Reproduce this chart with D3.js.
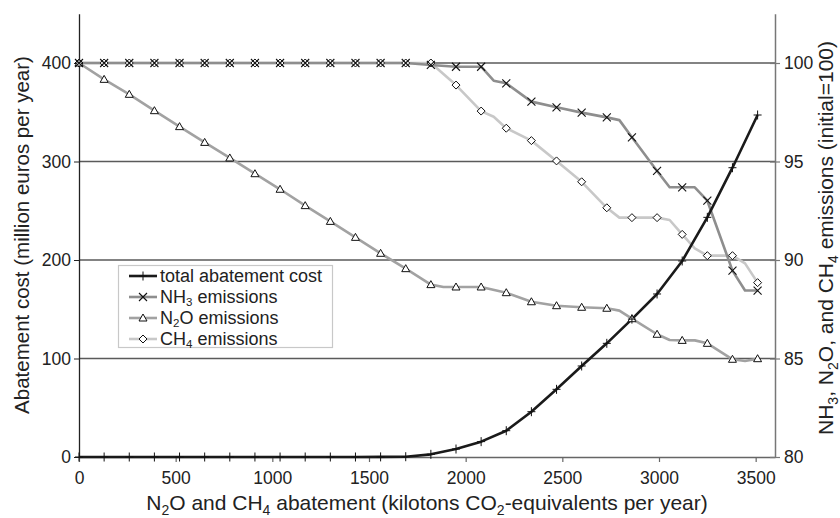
<!DOCTYPE html>
<html><head><meta charset="utf-8">
<script src="https://cdn.jsdelivr.net/npm/d3@7"></script>
<style>
body{margin:0;background:#fff;}
svg{display:block;font-family:"Liberation Sans",Arial,sans-serif;}
</style></head>
<body><svg id="chart" width="840" height="518"></svg>
<script>
// ---- data ----
const xTicks = [0,500,1000,1500,2000,2500,3000,3500];
const leftTicks = [0,100,200,300,400];
const rightTicks = [80,85,90,95,100];
// marker positions (kilotons CO2-eq), step 130
const markerX = [0,130,260,390,520,650,780,910,1040,1170,1300,1430,1560,1690,1820,1950,2080,2210,2340,2470,2600,2730,2860,2990,3120,3250,3380,3510];
// total abatement cost (million euros per year)
const costX = markerX;
const costY = [0,0,0,0,0,0,0,0,0,0,0,0,0.1,0.3,2.7,8.1,15.6,26.7,46,68.7,92.4,115.4,140,165.5,199,243.3,293.7,347.2];
// NH3 emissions (index, initial=100) including line vertices between markers
const nh3X = [0,130,260,390,520,650,780,910,1040,1170,1300,1430,1560,1690,1820,1950,2080,2145,2210,2340,2470,2600,2730,2795,2860,2990,3055,3120,3185,3250,3380,3445,3510];
const nh3Y = [100,100,100,100,100,100,100,100,100,100,100,100,100,100,99.9,99.81,99.81,99.1,98.97,98.04,97.75,97.48,97.24,97.1,96.23,94.52,93.69,93.69,93.69,93.01,89.46,88.45,88.45];
// N2O emissions
const n2oX = [0,130,260,390,520,650,780,910,1040,1170,1300,1430,1560,1690,1820,1885,1950,2080,2210,2340,2470,2600,2730,2795,2860,2990,3055,3120,3185,3250,3380,3445,3510];
const n2oY = [100,99.17,98.41,97.58,96.77,95.97,95.18,94.38,93.59,92.76,91.96,91.15,90.34,89.56,88.75,88.63,88.63,88.63,88.34,87.88,87.68,87.6,87.55,87.43,87.02,86.23,85.94,85.92,85.92,85.77,84.96,84.87,84.99];
// CH4 emissions
const ch4X = [0,130,260,390,520,650,780,910,1040,1170,1300,1430,1560,1690,1820,1950,2080,2145,2210,2340,2470,2600,2730,2795,2860,2990,3055,3120,3185,3250,3380,3445,3510];
const ch4Y = [100,100,100,100,100,100,100,100,100,100,100,100,100,100,100,98.88,97.56,97.27,96.69,96.06,95.03,93.97,92.65,92.15,92.15,92.15,92.03,91.3,90.59,90.22,90.22,89.83,88.85];

// ---- layout ----
const svg = d3.select("#chart");
const x = d3.scaleLinear().domain([0,3600]).range([79,775]);
const yL = d3.scaleLinear().domain([0,450]).range([457,13.75]);
const yR = d3.scaleLinear().domain([80,102.5]).range([457,13.75]);
const FS = 17.5;

// gridlines
svg.append("g").selectAll("line").data(leftTicks.filter(d=>d>0)).join("line")
  .attr("x1",x(0)).attr("x2",x(3600)).attr("y1",d=>yL(d)).attr("y2",d=>yL(d))
  .attr("stroke","#5a5a5a").attr("stroke-width",1.5);

// axes
const axB = svg.append("g").attr("transform",`translate(0,${yL(0)})`)
  .call(d3.axisBottom(x).tickValues(xTicks).tickSize(5).tickSizeOuter(0).tickFormat(d3.format("d")));
const axL = svg.append("g").attr("transform",`translate(${x(0)},0)`)
  .call(d3.axisLeft(yL).tickValues(leftTicks).tickSize(5).tickSizeOuter(0));
const axR = svg.append("g").attr("transform",`translate(${x(3600)},0)`)
  .call(d3.axisRight(yR).tickValues(rightTicks).tickSize(5).tickSizeOuter(0));
axR.selectAll(".tick line").attr("x1",-5).attr("x2",5);
[axB,axL,axR].forEach(a=>{
  a.selectAll("text").attr("font-size",FS).attr("font-family","Liberation Sans, Arial, sans-serif").attr("fill","#222");
});
axB.select(".domain").attr("stroke","#666").attr("stroke-width",1.5);
axB.selectAll(".tick line").attr("stroke","#666").attr("stroke-width",1.2);
axB.selectAll("text").attr("y",10).attr("dy","0.95em");
axL.select(".domain").attr("stroke","#222").attr("stroke-width",1.3);
axL.selectAll(".tick line").attr("stroke","#222");
axL.selectAll("text").attr("x",-8);
axR.select(".domain").attr("stroke","#777").attr("stroke-width",1.5);
axR.selectAll(".tick line").attr("stroke","#777").attr("stroke-width",1.2);
axR.selectAll("text").attr("x",9);

// lines
const lineGen = (xs, ys, ysc) => d3.line().x((d,i)=>x(xs[i])).y((d,i)=>ysc(ys[i]))(ys);
svg.append("path").attr("d",lineGen(ch4X,ch4Y,yR)).attr("fill","none").attr("stroke","#c8c8c8").attr("stroke-width",2.6).attr("stroke-linejoin","round");
svg.append("path").attr("d",lineGen(n2oX,n2oY,yR)).attr("fill","none").attr("stroke","#a2a2a2").attr("stroke-width",2.6).attr("stroke-linejoin","round");
svg.append("path").attr("d",lineGen(nh3X,nh3Y,yR)).attr("fill","none").attr("stroke","#8e8e8e").attr("stroke-width",2.6).attr("stroke-linejoin","round");
svg.append("path").attr("d",lineGen(costX,costY,yL)).attr("fill","none").attr("stroke","#1a1a1a").attr("stroke-width",2.6).attr("stroke-linejoin","round");

// marker shapes
function drawMarker(g, type, cx, cy){
  if(type==="plus"){
    g.append("path").attr("d",`M${cx-4},${cy}H${cx+4}M${cx},${cy-4.5}V${cy+4.5}`).attr("stroke","#111").attr("stroke-width",1).attr("fill","none");
  } else if(type==="x"){
    g.append("path").attr("d",`M${cx-4},${cy-4}L${cx+4},${cy+4}M${cx-4},${cy+4}L${cx+4},${cy-4}`).attr("stroke","#111").attr("stroke-width",1.1).attr("fill","none");
  } else if(type==="tri"){
    g.append("path").attr("d",`M${cx},${cy-4}L${cx+4},${cy+3}L${cx-4},${cy+3}Z`).attr("stroke","#111").attr("stroke-width",1).attr("fill","#fff");
  } else if(type==="dia"){
    g.append("path").attr("d",`M${cx},${cy-4}L${cx+4},${cy}L${cx},${cy+4}L${cx-4},${cy}Z`).attr("stroke","#111").attr("stroke-width",1).attr("fill","#fff");
  }
}
const mk = svg.append("g");
const isMarker = v => v % 130 === 0;
ch4X.forEach((v,i)=>{ if(isMarker(v)) drawMarker(mk,"dia",x(v),yR(ch4Y[i])); });
n2oX.forEach((v,i)=>{ if(isMarker(v)) drawMarker(mk,"tri",x(v),yR(n2oY[i])); });
nh3X.forEach((v,i)=>{ if(isMarker(v)) drawMarker(mk,"x",x(v),yR(nh3Y[i])); });
costX.forEach((v,i)=>drawMarker(mk,"plus",x(v),yL(costY[i])));

// legend
const leg = svg.append("g");
leg.append("rect").attr("x",118.5).attr("y",265.5).attr("width",214).attr("height",82)
  .attr("fill","#fff").attr("stroke","#c8c8c8").attr("stroke-width",1.2);
const legItems = [
  {name:["total abatement cost"], color:"#1a1a1a", m:"plus"},
  {name:["NH","3"," emissions"], color:"#8e8e8e", m:"x"},
  {name:["N","2","O emissions"], color:"#a2a2a2", m:"tri"},
  {name:["CH","4"," emissions"], color:"#c8c8c8", m:"dia"}
];
legItems.forEach((it,i)=>{
  const cy = 276 + i*21;
  leg.append("line").attr("x1",129).attr("x2",157).attr("y1",cy).attr("y2",cy).attr("stroke",it.color).attr("stroke-width",2.6);
  drawMarker(leg,it.m,143,cy);
  const t = leg.append("text").attr("x",160).attr("y",cy+6).attr("font-size",18).attr("fill","#222");
  it.name.forEach((s,j)=>{
    if(j===1) t.append("tspan").attr("font-size",11.5).attr("dy",3).text(s);
    else if(j===2) t.append("tspan").attr("dy",-3).text(s);
    else t.append("tspan").text(s);
  });
});

// axis titles
svg.append("text").attr("transform",`translate(29,235) rotate(-90)`).attr("text-anchor","middle")
  .attr("font-size",20.5).attr("fill","#222").text("Abatement cost (million euros per year)");
const xt = svg.append("text").attr("x",427).attr("y",510).attr("text-anchor","middle").attr("font-size",21).attr("fill","#222");
xt.append("tspan").text("N");
xt.append("tspan").attr("font-size",14).attr("dy",5).text("2");
xt.append("tspan").attr("dy",-5).text("O and CH");
xt.append("tspan").attr("font-size",14).attr("dy",5).text("4");
xt.append("tspan").attr("dy",-5).text(" abatement (kilotons CO");
xt.append("tspan").attr("font-size",14).attr("dy",5).text("2");
xt.append("tspan").attr("dy",-5).text("-equivalents per year)");
const rt = svg.append("text").attr("transform",`translate(833,238) rotate(-90)`).attr("text-anchor","middle")
  .attr("font-size",21).attr("fill","#222");
rt.append("tspan").text("NH");
rt.append("tspan").attr("font-size",14).attr("dy",5).text("3");
rt.append("tspan").attr("dy",-5).text(", N");
rt.append("tspan").attr("font-size",14).attr("dy",5).text("2");
rt.append("tspan").attr("dy",-5).text("O, and CH");
rt.append("tspan").attr("font-size",14).attr("dy",5).text("4");
rt.append("tspan").attr("dy",-5).text(" emissions (initial=100)");
</script></body></html>
